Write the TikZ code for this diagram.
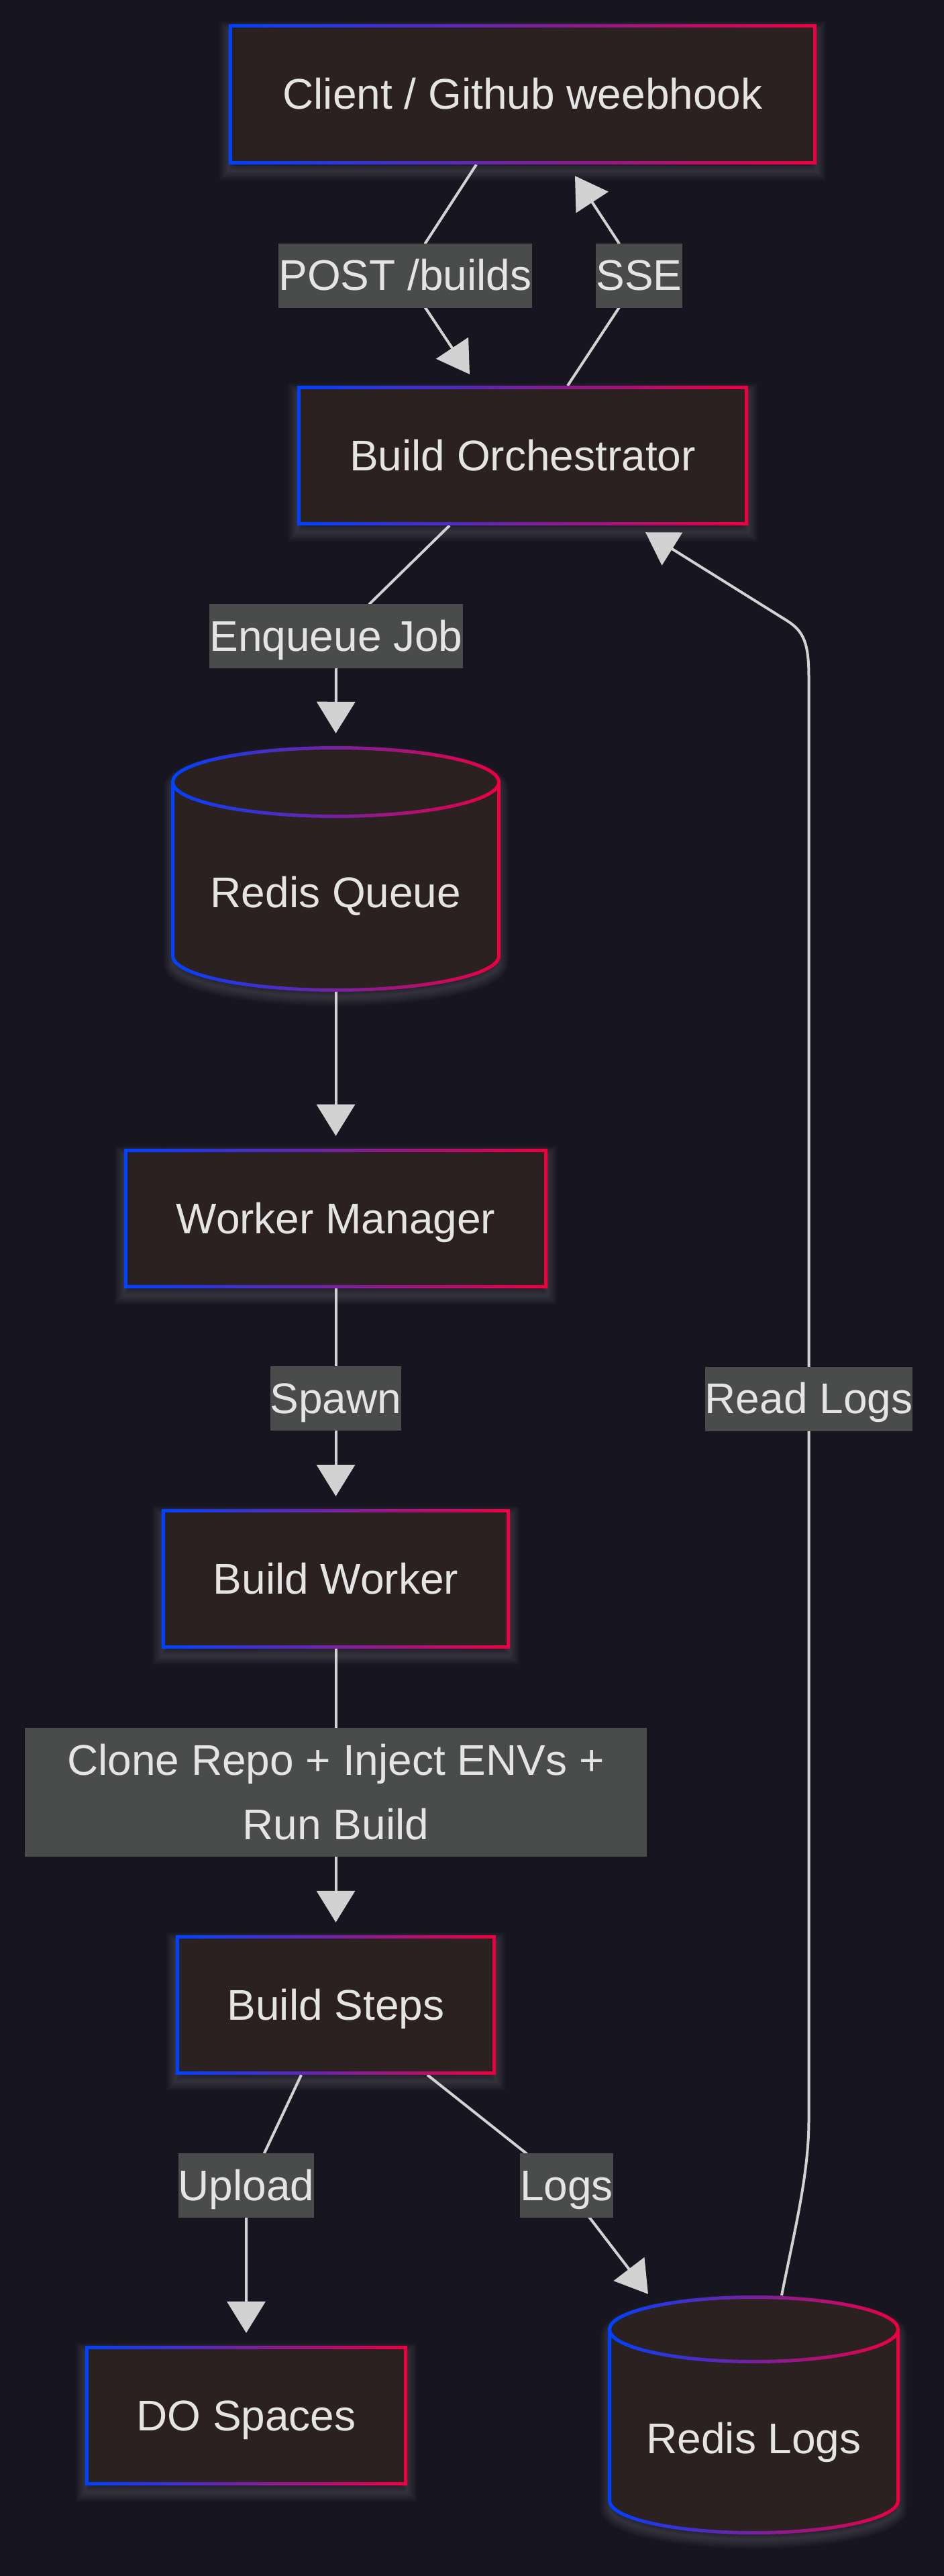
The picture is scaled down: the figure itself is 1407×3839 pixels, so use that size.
\documentclass[tikz,border=0pt]{standalone}
\usepackage{fontspec}
\setmainfont{Liberation Sans}
\usetikzlibrary{arrows.meta,calc}
\definecolor{bgc}{RGB}{22,21,32}
\definecolor{nodefill}{RGB}{44,33,33}
\definecolor{lblfill}{RGB}{74,76,75}
\definecolor{txtc}{RGB}{228,228,228}
\definecolor{edgec}{RGB}{210,210,210}
\definecolor{cblue}{RGB}{0,66,255}
\definecolor{cred}{RGB}{236,0,64}
\pgfdeclarelayer{back}
\pgfdeclarelayer{glow}
\pgfdeclarelayer{edges}
\pgfsetlayers{back,glow,edges,main}

\tikzset{
  box/.style={rectangle, fill=nodefill, inner sep=0pt, text=txtc, text height=70pt, text depth=26pt},
  cyl/.style={rectangle, inner sep=0pt, text=txtc, text height=150pt, text depth=36pt},
  elabel/.style={rectangle, fill=lblfill, inner sep=0pt, text=txtc},
  onel/.style={elabel, text height=70pt, text depth=26pt},
  edge/.style={draw=edgec, line width=4pt, -{Triangle[length=47pt,width=57pt]}},
}

% gradient ring around a rectangular node
\newcommand\gradrect[1]{%
  \shade[left color=cblue, right color=cred, even odd rule]
    (#1.north west) rectangle (#1.south east)
    ([shift={(5pt,-5pt)}]#1.north west) rectangle ([shift={(-5pt,5pt)}]#1.south east);}
% soft glow (shadow) under a rectangular node
\newcommand\glowrect[1]{%
  \begin{pgfonlayer}{glow}
  \foreach \w in {4,8,12,16,20,24,28}{%
    \draw[white, opacity=0.02, line width=\w pt]
      ([yshift=-10pt]#1.north west) rectangle ([yshift=-10pt]#1.south east);}
  \end{pgfonlayer}}
% cylinder: L R T B rx ry
\newcommand\cylfill[6]{%
  \fill[nodefill] (#1,#3+#6) -- (#1,#4-#6)
    arc[start angle=180,end angle=360,x radius=#5pt,y radius=#6pt]
    -- (#2,#3+#6)
    arc[start angle=0,end angle=180,x radius=#5pt,y radius=#6pt] -- cycle;}
\newcommand\cylstroke[7]{%
  \draw[#7] (#1,#3+#6) -- (#1,#4-#6)
    arc[start angle=180,end angle=360,x radius=#5pt,y radius=#6pt]
    -- (#2,#3+#6)
    arc[start angle=0,end angle=180,x radius=#5pt,y radius=#6pt] -- cycle
    (#1,#3+#6) arc[start angle=180,end angle=360,x radius=#5pt,y radius=#6pt];}
\newcommand\cylglow[6]{%
  \foreach \w in {4,8,12,16,20,24,28}{%
    \cylstroke{#1}{#2}{#3}{#4}{#5}{#6}{white, opacity=0.02, line width=\w pt, yshift=-10pt}}}
\newcommand\cylgrad[6]{%
  \pgfmathsetmacro\stripw{(#2-#1+10)/48}%
  \foreach \i in {0,...,47}{%
    \pgfmathsetmacro\xa{#1-5+\stripw*\i}%
    \pgfmathsetmacro\xb{\xa+\stripw+0.6}%
    \pgfmathtruncatemacro\pc{round(\i*100/47)}%
    \begin{scope}
      \clip (\xa,#3-10) rectangle (\xb,#4+10);
      \cylstroke{#1}{#2}{#3}{#4}{#5}{#6}{draw=cred!\pc!cblue, line width=5pt}
    \end{scope}}}

\begin{document}
\begin{tikzpicture}[x=1pt,y=-1pt,font=\fontsize{64pt}{96pt}\selectfont]
\begin{pgfonlayer}{back}
\fill[bgc] (0,0) rectangle (1407,3839);
\end{pgfonlayer}
\useasboundingbox (0,0) rectangle (1407,3839);

% ---------- rectangular nodes ----------
\node[box, minimum width=876pt, minimum height=209pt] (client) at (779,140.5) {Client / Github weebhook};
\node[box, minimum width=672pt, minimum height=208pt] (orch) at (779,679) {Build Orchestrator};
\node[box, minimum width=631pt, minimum height=208pt] (wm) at (500.5,1816) {Worker Manager};
\node[box, minimum width=519pt, minimum height=208pt] (bw) at (500.5,2353) {Build Worker};
\node[box, minimum width=477pt, minimum height=208pt] (bs) at (500.5,2988) {Build Steps};
\node[box, minimum width=480pt, minimum height=208pt] (dospaces) at (367,3600) {DO Spaces};
\foreach \n in {client,orch,wm,bw,bs,dospaces}{\glowrect{\n}\gradrect{\n}}

% ---------- cylinders ----------
\cylglow{257.5}{743.5}{1114.5}{1475.5}{243}{51}
\cylfill{257.5}{743.5}{1114.5}{1475.5}{243}{51}
\cylgrad{257.5}{743.5}{1114.5}{1475.5}{243}{51}
\node[cyl, minimum width=491pt, minimum height=366pt] (queue) at (500.5,1295) {Redis Queue};

\cylglow{908.5}{1338.5}{3423.5}{3774.5}{215}{48}
\cylfill{908.5}{1338.5}{3423.5}{3774.5}{215}{48}
\cylgrad{908.5}{1338.5}{3423.5}{3774.5}{215}{48}
\node[cyl, minimum width=435pt, minimum height=356pt] (logs) at (1123.5,3599) {Redis Logs};

% ---------- edge labels ----------
\node[onel] (post) at (604,410.5) {POST /builds};
\node[onel] (sse) at (952.5,410.5) {SSE};
\node[onel] (enq) at (501,948) {Enqueue Job};
\node[onel] (spawn) at (500.5,2084) {Spawn};
\node[onel] (readl) at (1205.5,2084.5) {Read Logs};
\node[elabel, align=center, minimum width=927pt] (clone) at (500.5,2671)
  {\rule{0pt}{70pt}Clone Repo + Inject ENVs +\\Run Build\rule[-26pt]{0pt}{26pt}};
\node[onel] (upl) at (367,3257) {Upload};
\node[onel] (lgl) at (844.5,3257) {Logs};

% ---------- edges ----------
\begin{pgfonlayer}{edges}
\draw[edge] ($(client.south)+(-69,0)$) -- ($(post.north)+(30,0)$) -- ($(post.south)+(30,0)$) -- ($(orch.north)+(-79,-17)$);
\draw[edge] ($(orch.north)+(67,0)$) -- ($(sse.south)+(-30,0)$) -- ($(sse.north)+(-30,0)$) -- ($(client.south)+(78,17)$);
\draw[edge] ($(orch.south)+(-109,0)$) -- ($(enq.north)+(50,0)$) -- (enq.south) -- ($(queue.north)+(0,-19)$);
\draw[edge] (queue.south) -- ($(wm.north)+(0,-19)$);
\draw[edge] (wm.south) -- (spawn.north) -- (spawn.south) -- ($(bw.north)+(0,-19)$);
\draw[edge] (bw.south) -- (clone.north) -- (clone.south) -- ($(bs.north)+(0,-19)$);
\draw[edge] ($(bs.south)+(-51.5,0)$) -- ($(upl.north)+(27,0)$) -- (upl.south) -- ($(dospaces.north)+(0,-19)$);
\draw[edge] ($(bs.south)+(136.5,0)$) -- ($(lgl.north)+(-60.5,0)$) -- ($(lgl.south)+(34.5,0)$) -- ($(logs.north)+(-157.5,-2)$);
\draw[edge] ($(logs.north)+(41.5,0)$) .. controls +(20,-100) and +(0,80) .. ($(readl.center)+(0,1075)$)
  -- ($(readl.center)+(0,-1075)$) .. controls +(0,-50) and +(25.5,16) .. (1173,925)
  -- ($(orch.south)+(183,10)$);
\end{pgfonlayer}
\end{tikzpicture}
\end{document}
